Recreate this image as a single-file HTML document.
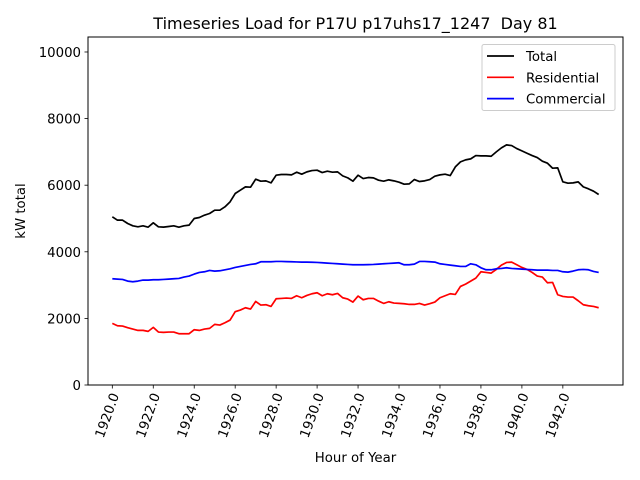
<!DOCTYPE html>
<html><head><meta charset="utf-8"><style>
body{margin:0;background:#fff}
svg{display:block;font-family:"DejaVu Sans","Liberation Sans",sans-serif}
</style></head><body>
<svg id="chart" width="640" height="480" viewBox="0 0 640 480"></svg>
<script>
const hours = Array.from({length:96},(_,i)=>1920+i*0.25);
const totalLoad = [5050,4950,4950,4850,4780,4750,4780,4740,4870,4750,4740,4760,4780,4740,4780,4800,5000,5030,5100,5150,5250,5250,5350,5500,5750,5850,5950,5940,6180,6120,6130,6070,6300,6320,6320,6310,6390,6330,6400,6440,6450,6380,6420,6390,6400,6280,6220,6120,6300,6200,6230,6220,6150,6120,6160,6130,6090,6030,6040,6170,6110,6130,6170,6270,6310,6330,6290,6550,6700,6760,6790,6890,6880,6880,6870,7000,7120,7210,7190,7100,7030,6960,6890,6830,6720,6660,6510,6520,6100,6060,6070,6100,5950,5890,5820,5720];
const residentialLoad = [1850,1780,1770,1720,1680,1640,1640,1610,1730,1590,1580,1590,1590,1540,1540,1540,1660,1640,1680,1700,1820,1800,1870,1950,2200,2250,2320,2280,2510,2400,2410,2360,2590,2600,2610,2600,2680,2620,2690,2740,2770,2680,2740,2710,2750,2620,2580,2490,2670,2560,2600,2600,2520,2450,2500,2460,2450,2440,2420,2420,2450,2400,2440,2490,2620,2680,2740,2720,2960,3030,3120,3210,3400,3380,3360,3470,3600,3680,3690,3610,3530,3470,3380,3270,3240,3070,3080,2710,2660,2640,2640,2530,2410,2380,2360,2320];
const commercialLoad = [3190,3180,3170,3120,3100,3120,3150,3150,3160,3160,3170,3180,3190,3200,3240,3270,3330,3380,3400,3440,3420,3430,3460,3490,3530,3560,3590,3620,3640,3700,3700,3700,3710,3710,3705,3700,3695,3690,3690,3685,3680,3670,3660,3650,3640,3630,3620,3610,3610,3610,3615,3620,3630,3640,3650,3660,3670,3610,3610,3630,3710,3710,3700,3690,3640,3620,3600,3580,3560,3560,3640,3610,3520,3460,3460,3490,3500,3520,3500,3490,3480,3470,3460,3450,3450,3450,3440,3440,3400,3390,3420,3460,3470,3460,3410,3380];
const xTicks = [1920,1922,1924,1926,1928,1930,1932,1934,1936,1938,1940,1942];
const yTicks = [0,2000,4000,6000,8000,10000];
const seriesNames = ["Total","Residential","Commercial"];
const seriesColors = ["#000000","#ff0000","#0000ff"];

const L=88,R=623,T=37,B=385;
const xMin=1918.8125,xMax=1944.9375,yMin=0,yMax=10450;
const sx=v=>L+(v-xMin)/(xMax-xMin)*(R-L);
const sy=v=>B-(v-yMin)/(yMax-yMin)*(B-T);
const NS="http://www.w3.org/2000/svg";
const svg=document.getElementById('chart');
function mk(tag,attrs,parent){const e=document.createElementNS(NS,tag);for(const k in attrs)e.setAttribute(k,attrs[k]);(parent||svg).appendChild(e);return e;}

const title=mk('text',{x:(L+R)/2,y:29,'text-anchor':'middle','font-size':'16'});


title.textContent='Timeseries Load for P17U p17uhs17_1247\u00a0\u00a0Day 81';

const data=[totalLoad,residentialLoad,commercialLoad];
data.forEach((arr,si)=>{
  const d=arr.map((v,i)=>(i?'L':'M')+sx(hours[i]).toFixed(2)+','+sy(v).toFixed(2)).join(' ');
  const p=mk('path',{d:d,fill:'none',stroke:seriesColors[si],'stroke-width':'1.7','stroke-linejoin':'round'});
  
  
});

const frame=mk('rect',{x:L,y:T,width:R-L,height:B-T,fill:'none',stroke:'#000','stroke-width':'1'});



yTicks.forEach(v=>{
  const y=sy(v);
  mk('line',{x1:L-3.5,x2:L,y1:y,y2:y,stroke:'#000','stroke-width':'0.8'});
  const t=mk('text',{x:L-7,y:y+5,'text-anchor':'end','font-size':'13.3'});
  
  
  t.textContent=v;
});
xTicks.forEach(v=>{
  const x=sx(v);
  mk('line',{x1:x,x2:x,y1:B,y2:B+3.5,stroke:'#000','stroke-width':'0.8'});
  const ax=x+7, ay=B+10;
  const t=mk('text',{x:ax,y:ay,'text-anchor':'end','font-size':'13.3',transform:'rotate(-70 '+ax+' '+ay+')'});
  
  
  t.textContent=v.toFixed(1);
});

const xl=mk('text',{x:(L+R)/2,y:462,'text-anchor':'middle','font-size':'13.3'});


xl.textContent='Hour of Year';
const yl=mk('text',{x:25,y:(T+B)/2,'text-anchor':'middle','font-size':'13.3',transform:'rotate(-90 25 '+((T+B)/2)+')'});


yl.textContent='kW total';

const lg=mk('g',{});


mk('rect',{x:482,y:44.5,width:133,height:66,rx:2,fill:'#fff','fill-opacity':'0.8',stroke:'#ccc','stroke-width':'1'},lg);
seriesNames.forEach((n,i)=>{
  const y=56+i*21.3;
  const g=mk('g',{},lg);
  
  
  mk('line',{x1:487,x2:514,y1:y,y2:y,stroke:seriesColors[i],'stroke-width':'1.7'},g);
  const t=mk('text',{x:526,y:y+5,'font-size':'13.3'},g);
  t.textContent=n;
});
</script>
</body></html>
